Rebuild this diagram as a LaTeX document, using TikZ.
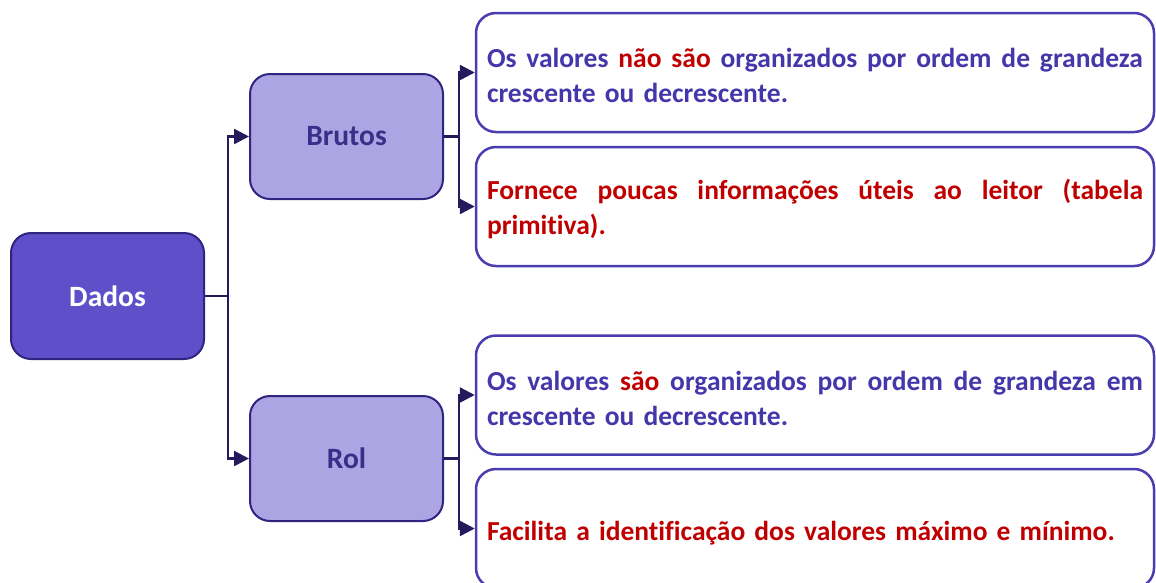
\documentclass[tikz,border=0pt]{standalone}
\usepackage{fontspec}
\setmainfont{Carlito}[Ligatures=NoCommon]
\usetikzlibrary{arrows.meta}
\definecolor{navy}{HTML}{241A5C}
\definecolor{dark}{HTML}{5F4FC8}
\definecolor{light}{HTML}{ADA5E3}
\definecolor{edge}{HTML}{2F2580}
\definecolor{boxedge}{HTML}{4A3DB0}
\definecolor{bluetxt}{HTML}{4536AA}
\definecolor{redtxt}{HTML}{C00000}
\definecolor{cattxt}{HTML}{3A2E88}
\tikzset{
  mainbox/.style={draw=edge, line width=2pt, fill=dark, rounded corners=20pt,
    minimum width=193pt, minimum height=126pt, text=white,
    font=\fontsize{29.5}{33}\selectfont\bfseries},
  catbox/.style={draw=edge, line width=2pt, fill=light, rounded corners=20pt,
    minimum width=193pt, minimum height=125pt, text=cattxt,
    font=\fontsize{29.5}{33}\selectfont\bfseries},
  infobox/.style={draw=boxedge, line width=2.5pt, fill=white, rounded corners=20pt,
    minimum width=678pt, minimum height=119pt, text width=656pt, align=left,
    inner xsep=8pt, font=\fontsize{27.5}{35}\selectfont\bfseries},
  conn/.style={draw=navy, line width=2.5pt},
  arr/.style={conn, -{Triangle[length=15pt,width=15pt]}}
}
\newcommand{\jline}[1]{\hbox to 656pt{\spaceskip=\fontdimen2\font plus 1fil\relax #1}}
\newcommand{\tstrut}{\rule{0pt}{26pt}}
\begin{document}
\begin{tikzpicture}[x=1pt,y=-1pt]
\useasboundingbox (0,0) rectangle (1156,582);
\node[mainbox] (dados) at (107.5,296) {Dados};
\node[catbox] (brutos) at (346.5,136.5) {Brutos};
\node[catbox] (rol) at (346.5,458.5) {Rol};
\node[infobox] (b1) at (815,72.5) {\color{bluetxt}\jline{\tstrut Os valores \textcolor{redtxt}{não são} organizados por ordem de grandeza}\\crescente ou decrescente.};
\node[infobox] (b2) at (815,206.5) {\color{redtxt}\jline{\tstrut Fornece poucas informações úteis ao leitor (tabela}\\primitiva).};
\node[infobox] (b3) at (815,395) {\color{bluetxt}\jline{\tstrut Os valores \textcolor{redtxt}{são} organizados por ordem de grandeza em}\\crescente ou decrescente.};
\node[infobox] (b4) at (815,528.5) {\color{redtxt}\rule{0pt}{29pt}Facilita a identificação dos valores máximo e mínimo.};
\coordinate (j0) at (228,296);
\coordinate (j1) at (459,136.5);
\coordinate (j2) at (459,458.5);
\draw[conn] (dados.east) -- (j0);
\draw[arr] (j0) |- (brutos.west);
\draw[arr] (j0) |- (rol.west);
\draw[conn] (brutos.east) -- (j1);
\draw[arr] (j1) |- (b1.west);
\draw[arr] (j1) |- (b2.west);
\draw[conn] (rol.east) -- (j2);
\draw[arr] (j2) |- (b3.west);
\draw[arr] (j2) |- (b4.west);
\end{tikzpicture}
\end{document}
